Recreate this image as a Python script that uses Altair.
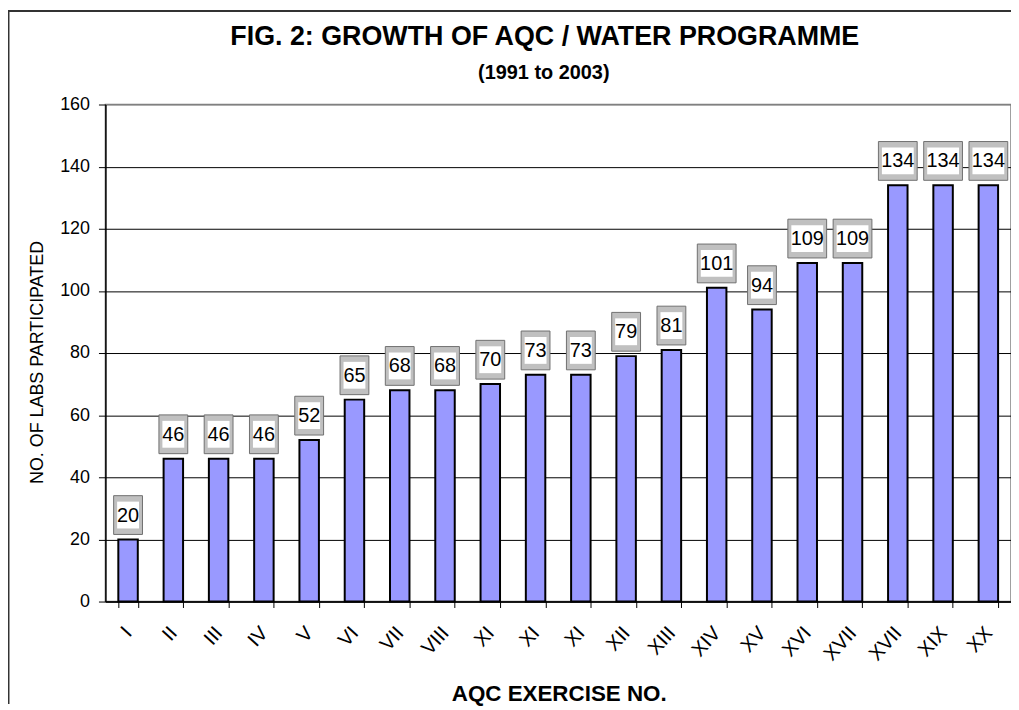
import altair as alt
import pandas as pd

labels = ["I", "II", "III", "IV", "V", "VI", "VII", "VIII", "XI", "XI",
          "XI", "XII", "XIII", "XIV", "XV", "XVI", "XVII", "XVII", "XIX", "XX"]
values = [20, 46, 46, 46, 52, 65, 68, 68, 70, 73,
          73, 79, 81, 101, 94, 109, 109, 134, 134, 134]
title_lines = ["FIG. 2: GROWTH OF AQC / WATER PROGRAMME", "(1991 to 2003)"]
x_title = "AQC EXERCISE NO."
y_title = "NO. OF LABS PARTICIPATED"
y_ticks = [0, 20, 40, 60, 80, 100, 120, 140, 160]

df = pd.DataFrame({"idx": list(range(len(labels))), "label": labels, "value": values})
df["txt"] = df["value"].astype(str)

W, H = 911, 500
label_expr = "[" + ",".join("'" + l + "'" for l in labels) + "][datum.value]"

x_enc = alt.X(
    "idx:O",
    scale=alt.Scale(paddingInner=0.57, paddingOuter=0.285),
    axis=alt.Axis(
        title=x_title, labelExpr=label_expr, labelAngle=-48, labelAlign="right",
        labelBaseline="middle", labelFontSize=20, labelPadding=22, labelColor="black",
        labelOverlap=False, tickBand="extent", tickSize=6, tickColor="black",
        domainColor="black", domainWidth=1.5, titleFontSize=22.5, titleFontWeight="bold",
        titleColor="black", titleX=456, titleY=93, titleAlign="center",
        titleBaseline="middle", titleAngle=0,
    ),
)
y_enc = alt.Y(
    "value:Q",
    scale=alt.Scale(domain=[0, 160], nice=False),
    axis=alt.Axis(
        values=y_ticks, title=y_title, titleFontSize=18, titleFontWeight="normal",
        titleColor="black", titleX=-68, titleY=259, titleAngle=-90, titleAlign="center",
        titleBaseline="middle", labelFontSize=18, labelPadding=9, labelColor="black",
        tickSize=7, tickColor="black", domainColor="black", domainWidth=1.5,
        grid=True, gridWidth=1,
        gridColor=alt.condition("datum.value === 160", alt.value("#808080"), alt.value("black")),
    ),
)

base = alt.Chart(df)

bars = base.mark_bar(fill="#9999FF", stroke="black", strokeWidth=2).encode(x=x_enc, y=y_enc)


def rect_path(w, h):
    r = w / h
    return f"M{-r},-1L{r},-1L{r},1L{-r},1Z"


def box_layers(sel, w):
    d = base.transform_filter(sel)
    outer = d.mark_point(shape=rect_path(w, 39), size=39 * 39, filled=True, opacity=1,
                         fill="#C0C0C0", stroke="#707070", strokeWidth=1,
                         yOffset=-24.5).encode(x=x_enc, y=y_enc)
    inner = d.mark_point(shape=rect_path(w - 7, 27), size=27 * 27, filled=True, opacity=1,
                         fill="white", strokeWidth=0,
                         yOffset=-24.5).encode(x=x_enc, y=y_enc)
    return outer + inner


narrow = box_layers("datum.value < 100", 29)
wide = box_layers("datum.value >= 100", 39)

txt = base.mark_text(fontSize=20, baseline="middle", align="center", dy=-24,
                     color="black").encode(x=x_enc, y=y_enc, text="txt:N")

tdf = pd.DataFrame({"t": title_lines, "line": [0, 1]})
t1 = alt.Chart(tdf).transform_filter("datum.line == 0").mark_text(
    fontSize=27, fontWeight="bold", baseline="middle", align="center", color="black"
).encode(x=alt.value(442), y=alt.value(-68), text="t:N")
t2 = alt.Chart(tdf).transform_filter("datum.line == 1").mark_text(
    fontSize=20, fontWeight="bold", baseline="middle", align="center", color="black"
).encode(x=alt.value(441), y=alt.value(-32), text="t:N")

one = pd.DataFrame({"a": [1]})
left_border = alt.Chart(one).mark_rule(color="#333333", strokeWidth=2).encode(
    x=alt.value(-97.5), y=alt.value(-95), y2=alt.value(H + 103))
top_border = alt.Chart(one).mark_rule(color="#333333", strokeWidth=2).encode(
    x=alt.value(-98), x2=alt.value(W), y=alt.value(-94))

chart = alt.layer(bars, narrow, wide, txt, t1, t2, left_border, top_border).properties(
    width=W, height=H,
    autosize=alt.AutoSizeParams(type="none"),
    padding={"left": 98, "top": 95, "right": 0, "bottom": 103},
).configure(font="Liberation Sans").configure_view(
    stroke="#808080", strokeWidth=1.5
)

chart.save("out.html", embed_options={"renderer": "svg", "actions": False})
